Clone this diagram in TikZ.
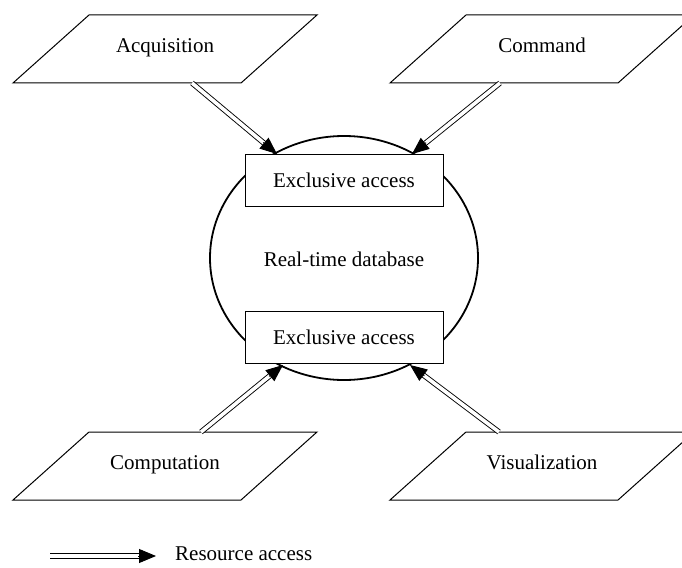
\documentclass[tikz,border=0pt]{standalone}
\usepackage{fontspec}
\setmainfont{Liberation Serif}
\usetikzlibrary{arrows.meta,calc,shapes.geometric}

\tikzset{
  txt/.style={font=\fontsize{21}{25}\selectfont, inner sep=0pt,
    text height=14pt, text depth=0pt},
  para/.style={draw=black, line width=1pt, line join=miter},
  accessbox/.style={draw, line width=1pt, fill=white, minimum width=198pt,
    minimum height=52pt, inner sep=0pt, font=\fontsize{21}{25}\selectfont,
    text height=14pt, text depth=0pt},
  dbcircle/.style={draw, ellipse, line width=1.8pt, minimum width=268pt,
    minimum height=244pt, inner sep=0pt},
  dline/.style={draw, double=white, double distance=3.6pt, line width=0.9pt},
  head/.style={draw, line width=0.9pt, -{Triangle[length=17pt,width=14pt]}},
}

% double-lined resource arrow with a solid head
\newcommand\resarrow[2]{%
  \draw[dline] (#1) -- ($(#2)!15pt!(#1)$);
  \draw[head] ($(#2)!18pt!(#1)$) -- (#2);}

% parallelogram with its corners named <name>-bl, -tl, -tr, -br
\newcommand\para[4]{% name, bottom-left x, bottom y, text
  \coordinate (#1-bl) at (#2,#3);
  \coordinate (#1-tl) at ($(#2,#3)+(76,-68)$);
  \coordinate (#1-tr) at ($(#2,#3)+(304,-68)$);
  \coordinate (#1-br) at ($(#2,#3)+(228,0)$);
  \draw[para] (#1-bl) -- (#1-tl) -- (#1-tr) -- (#1-br) -- cycle;
  \node[txt] (#1) at ($(#2,#3)+(152,-37.5)$) {#4};}

\begin{document}
\begin{tikzpicture}[x=1pt,y=-1pt]
  \path[use as bounding box] (0,0) rectangle (682,567);
  \clip (0,0) rectangle (682,567);

  % real-time database with its two access gates
  \node[dbcircle] (db) at (344,258) {};
  \node[txt] (dbtext) at (344,259) {Real-time database};
  \node[accessbox] (gtop) at (344,180) {Exclusive access};
  \node[accessbox] (gbot) at (344,337) {Exclusive access};

  % processes
  \para{acq}{13}{83}{Acquisition}
  \para{cmd}{390}{83}{Command}
  \para{cmp}{13}{500}{Computation}
  \para{vis}{390}{500}{Visualization}

  % arrow end points
  \coordinate (acq-out) at (192,83);
  \coordinate (cmd-out) at (500,83);
  \coordinate (cmp-out) at (201,432);
  \coordinate (vis-out) at (499,432);
  \coordinate (gtop-l) at (277,154);
  \coordinate (gtop-r) at (412,154);
  \coordinate (gbot-l) at (283,365);
  \coordinate (gbot-r) at (410,365);

  \resarrow{acq-out}{gtop-l}
  \resarrow{cmd-out}{gtop-r}
  \resarrow{cmp-out}{gbot-l}
  \resarrow{vis-out}{gbot-r}

  % legend
  \coordinate (leg-a) at (50,556);
  \coordinate (leg-b) at (156,556);
  \resarrow{leg-a}{leg-b}
  \node[txt, anchor=west] (legtext) at (175,553) {Resource access};
\end{tikzpicture}
\end{document}
